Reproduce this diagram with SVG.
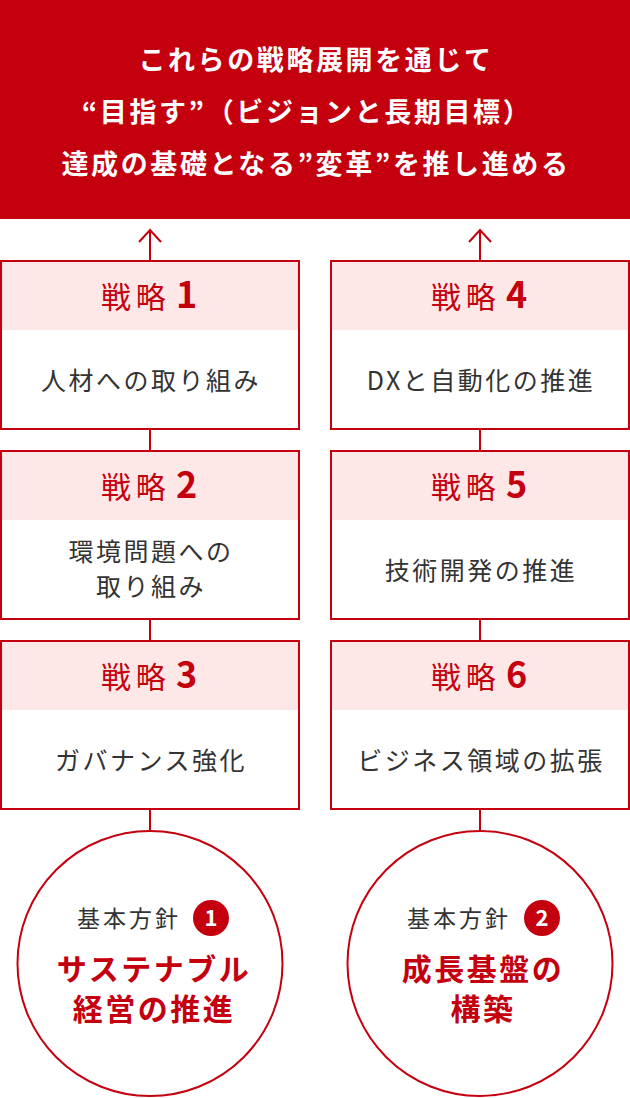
<svg xmlns="http://www.w3.org/2000/svg" width="630" height="1098" viewBox="0 0 630 1098">
<defs>
<style>
text{font-family:"Noto Sans CJK JP","Noto Sans",sans-serif;}
.hd{fill:#fff;font-size:27px;font-weight:700;letter-spacing:2.6px;text-anchor:middle;}
.box{fill:#fff;stroke:#c4000f;stroke-width:2;}
.band{fill:#fde7e7;}
.ttl{fill:#c4000f;font-size:30px;font-weight:400;text-anchor:middle;}
.ls{letter-spacing:5px;}
.num{font-weight:700;font-size:36px;}
.bd{fill:#333;font-size:25px;letter-spacing:2.5px;text-anchor:middle;}
.ring{fill:#fff;stroke:#c4000f;stroke-width:2;}
.pol{fill:#333;font-size:23px;letter-spacing:3px;}
.badge{fill:#c4000f;}
.bn{fill:#fff;font-size:22px;font-weight:700;text-anchor:middle;}
.sub{fill:#c4000f;font-size:30px;font-weight:700;letter-spacing:2.5px;text-anchor:middle;}
.ln{stroke:#c4000f;stroke-width:2;fill:none;}
</style>
</defs>
<g id="header">
<rect x="0" y="0" width="630" height="219" fill="#c4000f"/>
<text class="hd" x="316" y="70">これらの戦略展開を通じて</text>
<text class="hd" x="307" y="122">“目指す”（ビジョンと長期目標）</text>
<text class="hd" x="316" y="174">達成の基礎となる”変革”を推し進める</text>
</g>
<g id="connectors">
<path class="ln" d="M150 260V230M139 242L150 230L161 242"/>
<path class="ln" d="M480 260V230M469 242L480 230L491 242"/>
<path class="ln" d="M150 430V450M150 620V640M150 810V831"/>
<path class="ln" d="M480 430V450M480 620V640M480 810V831"/>
</g>
<g id="s1">
<rect class="box" x="1" y="261" width="298" height="168"/>
<rect class="band" x="2" y="262" width="296" height="68"/>
<text class="ttl" x="149" y="308"><tspan class="ls">戦略</tspan><tspan class="num" dx="5">1</tspan></text>
<text class="bd" x="151" y="390">人材への取り組み</text>
</g>
<g id="s2">
<rect class="box" x="1" y="451" width="298" height="168"/>
<rect class="band" x="2" y="452" width="296" height="68"/>
<text class="ttl" x="149" y="498"><tspan class="ls">戦略</tspan><tspan class="num" dx="5">2</tspan></text>
<text class="bd" x="151" y="561">環境問題への</text>
<text class="bd" x="151" y="596">取り組み</text>
</g>
<g id="s3">
<rect class="box" x="1" y="641" width="298" height="168"/>
<rect class="band" x="2" y="642" width="296" height="68"/>
<text class="ttl" x="149" y="688"><tspan class="ls">戦略</tspan><tspan class="num" dx="5">3</tspan></text>
<text class="bd" x="151" y="770">ガバナンス強化</text>
</g>
<g id="s4">
<rect class="box" x="331" y="261" width="298" height="168"/>
<rect class="band" x="332" y="262" width="296" height="68"/>
<text class="ttl" x="479" y="308"><tspan class="ls">戦略</tspan><tspan class="num" dx="5">4</tspan></text>
<text class="bd" x="481" y="390">DXと自動化の推進</text>
</g>
<g id="s5">
<rect class="box" x="331" y="451" width="298" height="168"/>
<rect class="band" x="332" y="452" width="296" height="68"/>
<text class="ttl" x="479" y="498"><tspan class="ls">戦略</tspan><tspan class="num" dx="5">5</tspan></text>
<text class="bd" x="481" y="580">技術開発の推進</text>
</g>
<g id="s6">
<rect class="box" x="331" y="641" width="298" height="168"/>
<rect class="band" x="332" y="642" width="296" height="68"/>
<text class="ttl" x="479" y="688"><tspan class="ls">戦略</tspan><tspan class="num" dx="5">6</tspan></text>
<text class="bd" x="481" y="770">ビジネス領域の拡張</text>
</g>
<g id="p1">
<circle class="ring" cx="150" cy="963.5" r="132.5"/>
<text class="pol" x="77" y="927">基本方針</text>
<circle class="badge" cx="211" cy="918" r="18"/>
<text class="bn" x="211" y="926">1</text>
<text class="sub" x="154" y="980">サステナブル</text>
<text class="sub" x="154" y="1020">経営の推進</text>
</g>
<g id="p2">
<circle class="ring" cx="480" cy="963.5" r="132.5"/>
<text class="pol" x="407" y="927">基本方針</text>
<circle class="badge" cx="542" cy="918" r="18"/>
<text class="bn" x="542" y="926">2</text>
<text class="sub" x="483" y="980">成長基盤の</text>
<text class="sub" x="483" y="1020">構築</text>
</g>
</svg>
